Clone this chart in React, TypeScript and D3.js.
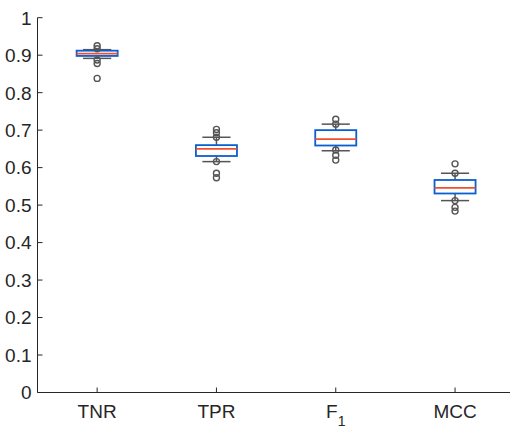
import * as d3 from 'd3';
import React from 'react';

const width = 510;
const height = 429;
const margin = { top: 17.7, left: 37.5, bottom: 36.5 };

const blue = '#0a5fd0';
const red = '#f0502c';
const gray = '#555555';
const axisColor = '#262626';

// box statistics
const categories = ['TNR', 'TPR', 'F1', 'MCC'];
const q1 = [0.898, 0.631, 0.659, 0.531];
const median = [0.904, 0.65, 0.676, 0.546];
const q3 = [0.912, 0.66, 0.7, 0.567];
const whiskerLow = [0.8915, 0.616, 0.645, 0.512];
const whiskerHigh = [0.9147, 0.681, 0.716, 0.585];
const outliers = [
  [0.925, 0.917, 0.887, 0.878, 0.838],
  [0.702, 0.693, 0.681, 0.616, 0.585, 0.573],
  [0.729, 0.716, 0.647, 0.633, 0.62],
  [0.61, 0.585, 0.512, 0.494, 0.484]
];
const yTicks = [0, 0.1, 0.2, 0.3, 0.4, 0.5, 0.6, 0.7, 0.8, 0.9, 1];

const x = d3
  .scaleLinear()
  .domain([0.5, 4.5])
  .range([margin.left, margin.left + 4 * 119.3]);
const y = d3
  .scaleLinear()
  .domain([0, 1])
  .range([height - margin.bottom, margin.top]);

const boxHalf = 0.172; // in category units
const capHalf = 0.118;
const fmt = d3.format('~g');

export default function App() {
  const font = 'Liberation Sans, Arial, Helvetica, sans-serif';
  return (
    <svg
      width={width}
      height={height}
      style={{ position: 'absolute', left: 0, top: 0, background: '#fff' }}
      fontFamily={font}
    >
      {/* y axis */}
      <line x1={x(0.5)} x2={x(0.5)} y1={y(0)} y2={y(1)} stroke={axisColor} />
      {yTicks.map(t => (
        <g key={t}>
          <line x1={x(0.5)} x2={x(0.5) + 5} y1={y(t)} y2={y(t)} stroke={axisColor} />
          <text x={x(0.5) - 6} y={y(t)} dy="0.36em" textAnchor="end" fontSize={19} fill={axisColor}>
            {fmt(t)}
          </text>
        </g>
      ))}
      {/* x axis */}
      <line x1={x(0.5)} x2={x(4.5)} y1={y(0)} y2={y(0)} stroke={axisColor} />
      {categories.map((c, i) => (
        <g key={c}>
          <line x1={x(i + 1)} x2={x(i + 1)} y1={y(0)} y2={y(0) - 5} stroke={axisColor} />
          <text x={x(i + 1)} y={y(0) + 25} textAnchor="middle" fontSize={19} fill={axisColor}>
            {c === 'F1' ? (
              <>
                F<tspan dy={8} fontSize={14}>1</tspan>
              </>
            ) : (
              c
            )}
          </text>
        </g>
      ))}
      {/* boxes */}
      {categories.map((c, i) => {
        const cx = x(i + 1);
        const bw = x(i + 1 + boxHalf) - cx;
        const cw = x(i + 1 + capHalf) - cx;
        return (
          <g key={'b' + c}>
            <line x1={cx} x2={cx} y1={y(q3[i])} y2={y(whiskerHigh[i])} stroke={gray} strokeWidth={1.5} />
            <line x1={cx} x2={cx} y1={y(q1[i])} y2={y(whiskerLow[i])} stroke={gray} strokeWidth={1.5} />
            <line x1={cx - cw} x2={cx + cw} y1={y(whiskerHigh[i])} y2={y(whiskerHigh[i])} stroke={gray} strokeWidth={1.5} />
            <line x1={cx - cw} x2={cx + cw} y1={y(whiskerLow[i])} y2={y(whiskerLow[i])} stroke={gray} strokeWidth={1.5} />
            <rect
              x={cx - bw}
              y={y(q3[i])}
              width={2 * bw}
              height={y(q1[i]) - y(q3[i])}
              fill="#fff"
              stroke={blue}
              strokeWidth={1.8}
            />
            <line x1={cx - bw} x2={cx + bw} y1={y(median[i])} y2={y(median[i])} stroke={red} strokeWidth={1.8} />
            {outliers[i].map((o, j) => (
              <circle key={j} cx={cx} cy={y(o)} r={3} fill="none" stroke={gray} strokeWidth={1.4} />
            ))}
          </g>
        );
      })}
    </svg>
  );
}
